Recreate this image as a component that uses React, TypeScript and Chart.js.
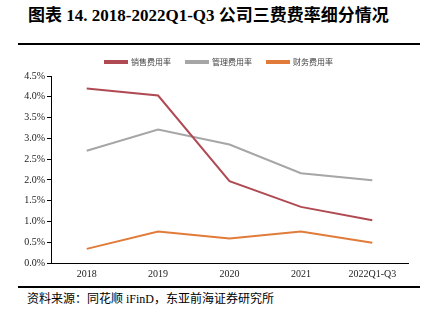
import React, { useEffect, useRef } from "react";
import { Chart, registerables } from "chart.js";

Chart.register(...registerables);

const categories = ["2018", "2019", "2020", "2021", "2022Q1-Q3"];
const sellingRate = [4.2, 4.03, 1.97, 1.35, 1.03];
const adminRate = [2.7, 3.21, 2.85, 2.16, 1.99];
const financeRate = [0.34, 0.76, 0.59, 0.76, 0.49];
const seriesNames = ["销售费用率", "管理费用率", "财务费用率"];
const titleText = "图表 14. 2018-2022Q1-Q3 公司三费费率细分情况";
const sourceText = "资料来源：同花顺 iFinD，东亚前海证券研究所";

const serif = "'Liberation Serif', 'Times New Roman', 'Noto Sans CJK SC', serif";

const legendShift = {
  id: "legendShift",
  afterLayout(chart: any) {
    if (chart.legend) {
      chart.legend.left += 15;
      chart.legend.right += 15;
    }
  },
};

export default function App() {
  const ref = useRef<HTMLCanvasElement | null>(null);
  useEffect(() => {
    if (!ref.current) return;
    const chart = new Chart(ref.current, {
      type: "line",
      data: {
        labels: categories,
        datasets: [
          { label: seriesNames[0], data: sellingRate, borderColor: "#B04A52", backgroundColor: "#B04A52", borderWidth: 2, pointRadius: 0, tension: 0 },
          { label: seriesNames[1], data: adminRate, borderColor: "#A6A6A6", backgroundColor: "#A6A6A6", borderWidth: 2, pointRadius: 0, tension: 0 },
          { label: seriesNames[2], data: financeRate, borderColor: "#E07B39", backgroundColor: "#E07B39", borderWidth: 2, pointRadius: 0, tension: 0 },
        ],
      },
      plugins: [legendShift],
      options: {
        animation: false,
        responsive: false,
        maintainAspectRatio: false,
        layout: { padding: { left: 0, right: 12, top: 0, bottom: 0 } },
        plugins: {
          legend: {
            position: "top",
            labels: {
              boxWidth: 22,
              boxHeight: 2,
              padding: 15,
              color: "#404040",
              font: { family: "'Noto Sans CJK SC', sans-serif", size: 8 },
            },
          },
          tooltip: { enabled: false },
        },
        scales: {
          x: {
            type: "category",
            offset: true,
            grid: { display: false, drawTicks: false },
            border: { color: "#000", width: 1 },
            ticks: { color: "#222", font: { family: serif, size: 10 }, padding: 5, maxRotation: 0 },
          },
          y: {
            min: 0,
            max: 4.5,
            afterFit: (s: any) => { s.width = 51; },
            grid: { drawOnChartArea: false, drawTicks: true, tickLength: 4, color: "#000" },
            border: { color: "#000", width: 1 },
            ticks: {
              stepSize: 0.5,
              color: "#222",
              padding: 2,
              font: { family: serif, size: 10 },
              callback: (v: any) => Number(v).toFixed(1) + "%",
            },
          },
        },
      },
    });
    return () => chart.destroy();
  }, []);

  return (
    <div style={{ position: "absolute", left: 0, top: 0, width: 430, height: 324, background: "#fff", overflow: "hidden" }}>
      <div style={{ position: "absolute", left: 28, top: 1, fontFamily: serif, fontWeight: "bold", fontSize: 17, color: "#000", whiteSpace: "nowrap" }}>
        {titleText}
      </div>
      <div style={{ position: "absolute", left: 18, top: 43, width: 402, height: 2, background: "#000" }} />
      <canvas ref={ref} width={420} height={242} style={{ position: "absolute", left: 0, top: 43, width: 420, height: 242 }} />
      <div style={{ position: "absolute", left: 18, top: 286, width: 402, height: 2, background: "#000" }} />
      <div style={{ position: "absolute", left: 27, top: 289, fontFamily: serif, fontSize: 12, color: "#000", whiteSpace: "nowrap" }}>
        {sourceText}
      </div>
    </div>
  );
}
